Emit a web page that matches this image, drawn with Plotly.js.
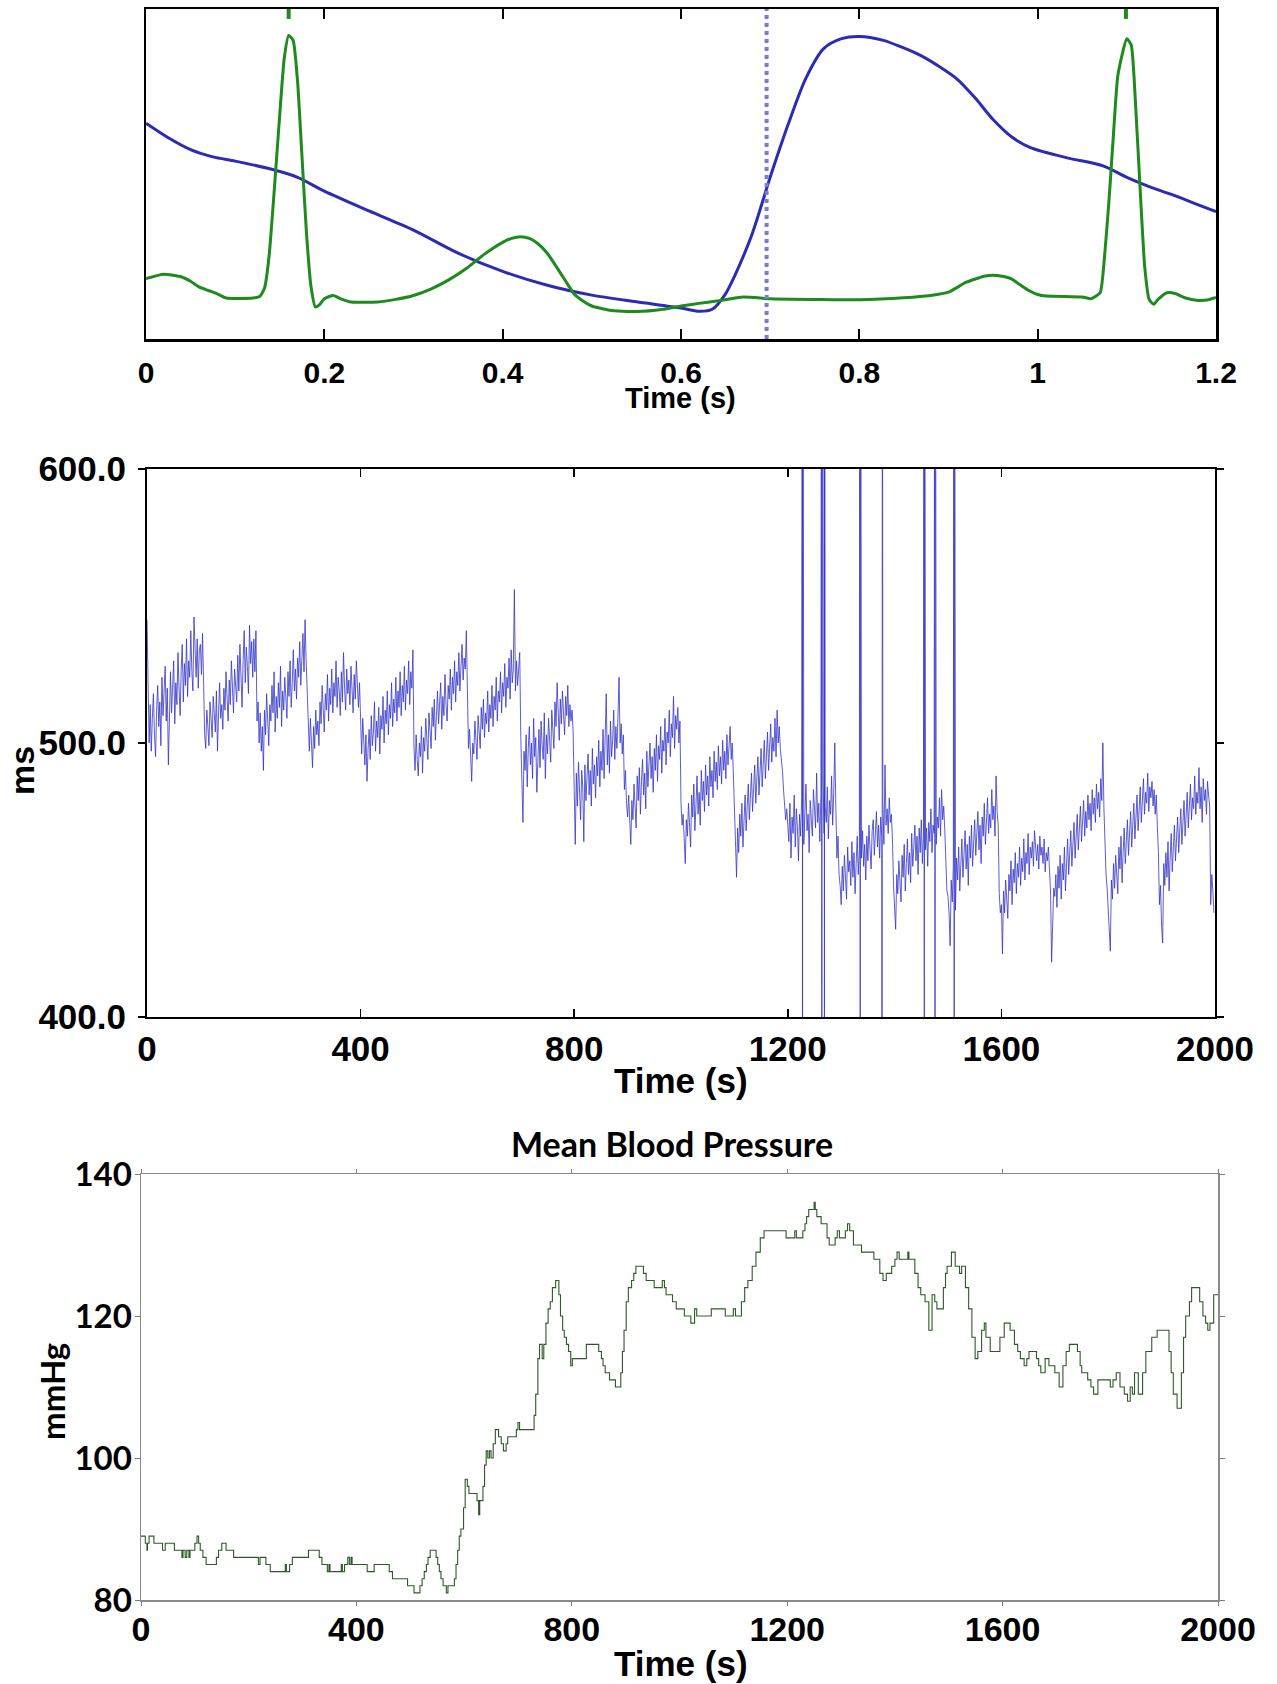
<!DOCTYPE html>
<html>
<head>
<meta charset="utf-8">
<script src="https://cdn.plot.ly/plotly-3.0.1.min.js"></script>
<style>html,body{margin:0;padding:0;background:#fff;}#plot{width:1277px;height:1684px;}</style>
</head>
<body>
<div id="plot"></div>
<script>
// ---------- Panel 1: one cardiac cycle (normalised amplitude) ----------
const abpTime  = [0,0.025,0.05,0.075,0.1,0.14,0.17,0.2,0.25,0.3,0.35,0.4,0.45,0.5,0.55,0.6,0.62,0.635,0.65,0.66,0.68,0.7,0.72,0.74,0.76,0.78,0.8,0.827,0.847,0.868,0.89,0.909,0.93,0.95,0.971,0.992,1.033,1.074,1.1,1.125,1.15,1.175,1.2];
const abpValue = [0.654,0.61,0.574,0.552,0.539,0.515,0.49,0.448,0.388,0.33,0.26,0.205,0.163,0.133,0.113,0.094,0.084,0.09,0.137,0.19,0.32,0.49,0.649,0.79,0.88,0.91,0.917,0.905,0.885,0.86,0.825,0.789,0.73,0.665,0.612,0.58,0.549,0.524,0.49,0.462,0.438,0.412,0.386];
const ecgTime  = [0,0.02,0.04,0.05,0.06,0.07,0.08,0.09,0.12,0.128,0.133,0.138,0.143,0.15,0.155,0.16,0.165,0.17,0.175,0.18,0.185,0.19,0.195,0.2,0.21,0.22,0.23,0.26,0.28,0.3,0.32,0.34,0.36,0.38,0.4,0.41,0.42,0.43,0.44,0.45,0.46,0.47,0.48,0.49,0.5,0.52,0.55,0.58,0.6,0.62,0.64,0.67,0.7,0.75,0.8,0.85,0.88,0.9,0.92,0.94,0.95,0.96,0.97,0.98,0.99,1.0,1.01,1.05,1.06,1.07,1.075,1.08,1.085,1.09,1.1,1.105,1.11,1.115,1.12,1.125,1.13,1.135,1.145,1.155,1.165,1.18,1.19,1.2];
const ecgValue = [0.183,0.196,0.188,0.175,0.157,0.147,0.137,0.124,0.124,0.13,0.155,0.25,0.42,0.68,0.85,0.92,0.905,0.78,0.55,0.32,0.16,0.097,0.105,0.122,0.132,0.12,0.112,0.112,0.12,0.132,0.152,0.18,0.215,0.258,0.293,0.305,0.31,0.305,0.288,0.26,0.22,0.178,0.137,0.115,0.1,0.087,0.083,0.09,0.1,0.108,0.115,0.127,0.122,0.12,0.119,0.125,0.132,0.142,0.172,0.19,0.193,0.19,0.183,0.165,0.147,0.135,0.13,0.127,0.122,0.14,0.25,0.42,0.62,0.8,0.91,0.89,0.7,0.45,0.22,0.12,0.105,0.12,0.14,0.137,0.125,0.117,0.118,0.126];
const rPeakTimes = [0.16, 1.099];
const cursorTime = 0.696;
const p1TickVals = [0,0.2,0.4,0.6,0.8,1,1.2];
const p1TickText = ['0','0.2','0.4','0.6','0.8','1','1.2'];

// ---------- Panel 2: RR intervals (ms), sampled every 2 s ----------
const rrStep = 2;
const rrValue = [
545,528,500,514,497,509,518,503,495,512,521,506,515,499,524,510,517,528,508,520,492,513,526,511,519,530,507,522,514,533,520,510,527,536,515,529,521,538,517,530,524,541,526,519,546,531,524,538,520,534,
536,525,540,522,503,498,512,506,499,515,508,502,517,510,504,519,497,511,522,509,514,505,520,512,526,516,508,523,514,530,518,511,527,521,515,532,519,536,524,513,530,541,522,535,528,518,543,529,537,524,
538,526,541,508,515,500,511,497,506,490,512,503,518,505,499,514,508,521,511,526,504,517,509,522,513,528,506,519,512,524,515,509,526,517,530,513,522,534,519,527,516,531,524,537,521,533,540,526,545,530,
518,504,497,509,501,491,506,498,512,503,508,499,515,507,521,510,504,518,512,525,508,520,514,527,511,522,517,530,513,524,519,510,526,515,533,520,512,527,518,523,514,528,520,511,525,516,530,519,513,522,
505,496,509,500,492,503,486,498,505,494,510,499,504,515,497,508,502,513,496,510,505,517,500,512,507,519,503,514,509,522,506,516,511,524,508,519,513,526,510,521,515,528,512,523,518,530,514,526,520,534,
498,490,503,494,488,500,495,506,489,502,497,509,500,494,511,503,498,513,506,516,501,510,519,507,513,522,505,517,510,525,514,508,521,516,527,512,524,518,530,515,526,521,533,519,528,536,523,531,527,541,
520,498,505,493,486,500,496,508,501,494,510,503,498,513,505,516,502,511,507,519,504,514,509,521,506,517,512,524,508,519,515,526,511,522,517,529,513,524,520,531,516,534,522,527,556,519,530,521,526,533,
502,488,471,497,490,503,484,498,506,492,500,487,509,495,502,482,497,505,491,508,499,494,511,487,503,496,509,500,493,512,504,498,515,506,522,509,501,516,507,519,511,503,517,510,521,506,514,508,512,504,
483,463,489,477,493,481,472,490,484,464,492,479,486,496,481,490,477,498,485,492,480,495,488,501,484,497,490,505,487,499,518,492,503,489,508,495,501,512,494,506,498,510,524,500,507,496,503,483,490,478,
473,481,468,463,479,472,485,476,469,488,479,491,474,486,494,481,489,476,497,484,492,500,487,495,482,498,490,503,486,499,494,506,489,501,497,509,492,504,500,512,495,507,502,517,498,510,505,513,500,508,
478,470,474,461,456,472,466,478,469,462,481,473,485,468,477,488,474,482,470,490,479,486,475,492,481,488,477,495,484,490,480,497,486,493,483,499,488,495,485,501,490,497,487,503,492,498,506,494,500,489,
472,464,451,469,460,474,466,478,462,471,481,468,476,485,472,480,489,475,484,492,478,487,495,481,490,498,484,493,501,487,496,504,490,499,507,493,502,497,509,495,512,500,506,498,494,490,483,478,472,476,
470,464,478,458,473,467,481,462,476,469,457,474,466,480,471,463,477,485,468,474,460,479,472,466,483,475,469,489,471,478,464,482,473,486,467,477,471,484,465,479,474,488,470,482,500,476,458,466,452,448,
441,455,446,459,450,443,462,453,457,448,464,451,460,445,456,466,452,461,436,458,468,455,463,450,466,457,470,461,454,468,472,459,466,475,462,470,458,473,466,479,463,492,470,476,467,480,471,474,465,448,
440,432,452,445,457,448,442,459,451,463,446,456,465,452,460,449,467,455,462,470,457,466,452,469,460,472,456,466,474,461,469,455,471,464,476,460,470,467,478,463,473,469,480,466,483,472,477,468,458,446,
444,438,426,450,442,455,447,439,458,450,462,446,456,465,451,460,468,454,463,448,466,458,470,455,464,472,459,467,475,461,470,456,473,466,478,463,471,480,467,474,469,483,472,477,466,488,475,470,445,438,
441,423,446,438,450,443,436,452,446,457,441,454,449,460,445,456,451,462,448,458,453,465,450,460,456,467,452,462,458,464,455,468,460,457,463,454,466,459,462,456,465,453,460,457,462,450,446,420,438,447,
444,452,440,455,447,459,443,456,450,462,446,458,465,452,461,468,455,464,471,458,467,474,461,470,477,464,472,479,466,475,469,481,472,478,468,483,474,480,471,485,476,482,473,487,479,500,476,462,452,447,
440,432,424,450,443,456,447,459,451,445,462,454,466,449,460,469,456,464,472,459,467,475,462,470,478,465,473,481,468,476,484,471,479,487,474,482,478,489,475,484,480,486,477,483,474,481,470,460,441,448,
433,427,456,448,460,451,464,446,458,467,453,462,470,457,465,473,460,468,476,463,471,479,466,474,482,469,477,485,472,480,476,488,474,482,478,491,476,484,471,487,479,483,474,486,481,477,441,452,446,438
];
// artefact beats (out-of-range RR values) and their times
const artefactTime = [1227,1263,1268,1335,1376,1455,1475,1511];
const artefactHigh = 780;
const artefactLow  = 250;
const p2TickVals = [0,400,800,1200,1600,2000];

// ---------- Panel 3: mean blood pressure (mmHg), beat-to-beat steps ----------
const bpTime = [0,8,11,12,15,24,40,45,62,76,78,82,85,89,91,100,104,107,110,115,121,140,144,150,158,172,218,221,232,240,268,270,276,281,311,331,336,346,349,351,372,374,378,384,387,390,392,420,433,461,467,495,507,518,522,526,530,533,537,548,551,554,557,561,567,570,582,585,588,591,594,599,602,606,609,624,627,629,635,638,641,644,647,650,654,658,664,669,673,678,681,697,700,703,730,733,737,740,745,748,752,756,760,764,770,776,779,783,786,790,794,798,801,827,850,855,858,862,870,881,891,894,897,901,905,911,915,919,933,938,953,968,972,975,987,994,1009,1021,1028,1032,1059,1085,1100,1104,1115,1121,1127,1135,1142,1150,1157,1198,1214,1217,1229,1233,1236,1240,1250,1252,1255,1263,1274,1278,1289,1293,1297,1308,1312,1316,1323,1338,1361,1372,1378,1384,1394,1400,1404,1408,1424,1426,1437,1443,1448,1456,1463,1469,1474,1478,1490,1494,1497,1505,1512,1520,1524,1531,1537,1543,1549,1554,1561,1566,1569,1577,1595,1603,1614,1622,1628,1633,1640,1645,1649,1663,1667,1671,1679,1686,1697,1705,1712,1718,1724,1739,1744,1747,1758,1764,1769,1777,1800,1805,1811,1818,1826,1832,1837,1841,1845,1852,1860,1866,1877,1887,1909,1913,1917,1924,1932,1936,1940,1947,1951,1966,1972,1977,1981,1985,1992,2000];
const bpValue = [89,88,87,88,89,88,87,88,87,86,87,86,87,86,87,88,89,88,87,86,85,86,87,88,87,86,85,86,85,84,85,84,85,86,87,86,85,84,85,84,85,84,85,86,85,86,85,84,85,84,83,82,81,82,83,84,85,86,87,86,85,84,83,82,81,82,83,85,87,89,90,93,97,96,95,94,92,94,96,99,101,100,101,100,102,104,103,102,101,102,103,104,105,104,106,109,114,116,114,116,119,121,122,124,125,123,120,118,117,116,115,113,114,116,115,114,113,112,111,110,112,115,118,122,124,125,126,127,126,125,124,125,124,123,122,121,120,119,121,120,121,120,121,120,122,124,125,127,129,131,132,131,132,131,132,133,134,135,136,135,134,133,131,130,131,132,131,132,133,132,130,129,128,126,125,126,127,128,129,128,129,128,126,124,123,122,118,123,122,121,124,126,127,129,127,126,127,124,121,117,114,115,118,119,117,115,117,119,118,116,115,114,113,114,115,114,113,112,114,113,112,110,113,115,116,115,113,112,111,110,109,111,110,111,112,110,109,108,110,109,112,109,112,115,117,118,115,112,109,107,112,117,120,122,124,122,120,119,118,119,123,123];
const p3TickVals = [0,400,800,1200,1600,2000];

// ---------- assemble RR series with artefacts (data merge only) ----------
let rrPoints = rrValue.map((v, i) => [i * rrStep, v]);
artefactTime.forEach(t => { rrPoints.push([t + 0.2, artefactHigh]); rrPoints.push([t + 0.6, artefactLow]); rrPoints.push([t + 1.0, artefactHigh]); });
rrPoints.sort((a, b) => a[0] - b[0]);
const rrX = rrPoints.map(p => p[0]);
const rrY = rrPoints.map(p => p[1]);

const W = 1277, H = 1684;
const px = x => x / W;
const py = y => 1 - y / H;

const boldArial = (s) => ({family: 'Liberation Sans, Arial, sans-serif', size: s, color: '#000', weight: 'bold'});
const boldLato = (s) => ({family: 'Lato, Open Sans, sans-serif', size: s, color: '#000', weight: 'bold'});

const traces = [
  {x: abpTime, y: abpValue, xaxis: 'x', yaxis: 'y', type: 'scatter', mode: 'lines',
   line: {color: '#2b2bb3', width: 3, shape: 'spline', smoothing: 0.8}, hoverinfo: 'skip'},
  {x: ecgTime, y: ecgValue, xaxis: 'x', yaxis: 'y', type: 'scatter', mode: 'lines',
   line: {color: '#1f8a1f', width: 3, shape: 'spline', smoothing: 0.5}, hoverinfo: 'skip'},
  {x: rrX, y: rrY, xaxis: 'x2', yaxis: 'y2', type: 'scatter', mode: 'lines',
   line: {color: '#3434c8', width: 0.8}, hoverinfo: 'skip'},
  {x: bpTime, y: bpValue, xaxis: 'x3', yaxis: 'y3', type: 'scatter', mode: 'lines',
   line: {color: '#2e5a28', width: 1.1, shape: 'hv'}, hoverinfo: 'skip'}
];

const shapes = [
  {type: 'line', xref: 'x', yref: 'y domain', x0: cursorTime, x1: cursorTime, y0: 0, y1: 1,
   line: {color: '#7a7adb', width: 4, dash: 'dot'}}
];
rPeakTimes.forEach(t => shapes.push({type: 'line', xref: 'x', yref: 'y domain', x0: t, x1: t, y0: 0.97, y1: 1.0,
   line: {color: '#1f8a1f', width: 4}}));

const layout = {
  width: W, height: H,
  margin: {l: 0, r: 0, t: 0, b: 0},
  paper_bgcolor: '#fff', plot_bgcolor: '#fff',
  showlegend: false,
  xaxis: {domain: [px(146), px(1216)], anchor: 'y', range: [0, 1.2], tickvals: p1TickVals, ticktext: p1TickText,
    ticks: 'inside', ticklen: 10, tickwidth: 2, tickcolor: '#000', showline: true, linewidth: 2.5, linecolor: '#000',
    mirror: 'ticks', showgrid: false, zeroline: false, tickfont: boldArial(30), ticklabelstandoff: 5},
  yaxis: {domain: [py(339), py(9)], anchor: 'x', range: [0, 1], showticklabels: false, ticks: '',
    showline: true, linewidth: 2.5, linecolor: '#000', mirror: true, showgrid: false, zeroline: false},
  xaxis2: {domain: [px(147), px(1215)], anchor: 'y2', range: [0, 2000], tickvals: p2TickVals,
    ticks: 'inside', ticklen: 8, tickwidth: 1.5, tickcolor: '#000', showline: true, linewidth: 2, linecolor: '#000',
    mirror: 'ticks', showgrid: false, zeroline: false, tickfont: boldArial(35), ticklabelstandoff: 0},
  yaxis2: {domain: [py(1017), py(469)], anchor: 'x2', range: [400, 600], tickvals: [400, 500, 600], tickformat: '.1f',
    ticks: 'outside', ticklen: 7, tickwidth: 1.5, tickcolor: '#000', showline: true, linewidth: 2, linecolor: '#000',
    mirror: 'ticks', showgrid: false, zeroline: false, tickfont: boldArial(35), ticklabelstandoff: 5},
  xaxis3: {domain: [px(141), px(1218)], anchor: 'y3', range: [0, 2000], tickvals: p3TickVals,
    ticks: 'outside', ticklen: 4, tickwidth: 1, tickcolor: '#808080', showline: true, linewidth: 1.5, linecolor: '#8a8a8a',
    mirror: 'ticks', showgrid: false, zeroline: false, tickfont: boldArial(34), ticklabelstandoff: -5},
  yaxis3: {domain: [py(1600), py(1174)], anchor: 'x3', range: [80, 140], tickvals: [80, 100, 120, 140],
    ticks: 'outside', ticklen: 5, tickwidth: 1, tickcolor: '#808080', showline: true, linewidth: 1.5, linecolor: '#8a8a8a',
    mirror: 'ticks', showgrid: false, zeroline: false, tickfont: boldLato(33), ticklabelstandoff: -4},
  shapes: shapes,
  annotations: [
    {text: 'Time (s)', xref: 'paper', yref: 'paper', x: px(681), y: py(398), xanchor: 'center', yanchor: 'middle', showarrow: false, font: boldArial(29)},
    {text: 'Time (s)', xref: 'paper', yref: 'paper', x: px(681), y: py(1080), xanchor: 'center', yanchor: 'middle', showarrow: false, font: boldArial(35)},
    {text: 'ms', xref: 'paper', yref: 'paper', x: px(22), y: py(771), xanchor: 'center', yanchor: 'middle', textangle: -90, showarrow: false, font: boldArial(34)},
    {text: 'Mean Blood Pressure', xref: 'paper', yref: 'paper', x: px(672), y: py(1143), xanchor: 'center', yanchor: 'middle', showarrow: false, font: boldLato(34)},
    {text: 'mmHg', xref: 'paper', yref: 'paper', x: px(52), y: py(1392), xanchor: 'center', yanchor: 'middle', textangle: -90, showarrow: false, font: boldLato(33)},
    {text: 'Time (s)', xref: 'paper', yref: 'paper', x: px(681), y: py(1663), xanchor: 'center', yanchor: 'middle', showarrow: false, font: boldArial(35)}
  ]
};

Plotly.newPlot('plot', traces, layout, {staticPlot: true, displayModeBar: false});
</script>
</body>
</html>
